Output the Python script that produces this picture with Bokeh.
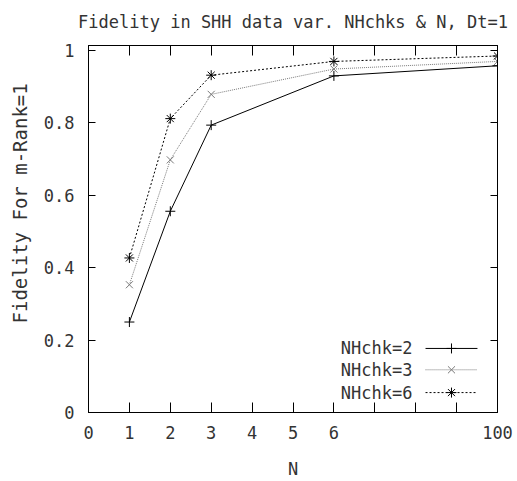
import math
from bokeh.plotting import figure
from bokeh.models import FixedTicker, LinearAxis, Label, Range1d, CustomJSTickFormatter, Title
from bokeh.embed import file_html
from bokeh.resources import INLINE

# ---------------- data ----------------
title_text = "Fidelity in SHH data var. NHchks & N, Dt=1"
x_label = "N"
y_label = "Fidelity For m-Rank=1"
x_tick_labels = ["0", "1", "2", "3", "4", "5", "6", "", "", "", "100"]
y_ticks = [0, 0.2, 0.4, 0.6, 0.8, 1.0]
y_tick_labels = ["0", "0.2", "0.4", "0.6", "0.8", "1"]
N_values = [1, 2, 3, 6, 100]
series_names = ["NHchk=2", "NHchk=3", "NHchk=6"]
fid_nhchk2 = [0.250, 0.556, 0.794, 0.930, 0.958]
fid_nhchk3 = [0.353, 0.698, 0.879, 0.949, 0.970]
fid_nhchk6 = [0.427, 0.812, 0.932, 0.970, 0.985]

# ---------------- styling ----------------
FONT = "DejaVu Sans Mono"
TXT = "#333333"
FS = "17px"

x_pos = [x_tick_labels.index(str(n)) for n in N_values]
x_max = len(x_tick_labels) - 1

p = figure(width=517, height=481, output_backend="svg", toolbar_location=None,
           x_range=Range1d(0, x_max), y_range=Range1d(0, 1.014),
           min_border_left=88, min_border_right=20, min_border_top=44, min_border_bottom=67)
p.grid.visible = False
p.outline_line_color = "black"
p.background_fill_color = "white"
p.border_fill_color = "white"

x_ticker = FixedTicker(ticks=list(range(len(x_tick_labels))))
y_ticker = FixedTicker(ticks=y_ticks)

xa = p.xaxis[0]
xa.ticker = x_ticker
xa.major_label_overrides = {i: lab for i, lab in enumerate(x_tick_labels)}
xa.major_tick_in = 10
xa.major_tick_out = 0
xa.minor_tick_in = 0
xa.minor_tick_out = 0
xa.major_label_standoff = 13
xa.axis_label = x_label
xa.axis_label_standoff = 17
xa.axis_label_text_font = FONT
xa.axis_label_text_font_size = FS
xa.axis_label_text_font_style = "normal"
xa.axis_label_text_color = TXT

ya = p.yaxis[0]
ya.ticker = y_ticker
ya.major_label_overrides = {t: lab for t, lab in zip(y_ticks, y_tick_labels)}
ya.major_tick_in = 7
ya.major_tick_out = 0
ya.minor_tick_in = 0
ya.minor_tick_out = 0
ya.major_label_standoff = 14

for ax in (xa, ya):
    ax.axis_line_color = "black"
    ax.major_tick_line_color = "black"
    ax.major_label_text_font = FONT
    ax.major_label_text_font_size = FS
    ax.major_label_text_color = TXT

blank = CustomJSTickFormatter(code="return ''")
right_ax = LinearAxis(ticker=y_ticker, formatter=blank, major_tick_in=7, major_tick_out=0,
                      minor_tick_in=0, minor_tick_out=0, major_label_text_font_size="1px",
                      major_label_standoff=0)
top_ax = LinearAxis(ticker=x_ticker, formatter=blank, major_tick_in=10, major_tick_out=0,
                    minor_tick_in=0, minor_tick_out=0, major_label_text_font_size="1px",
                    major_label_standoff=0)
p.add_layout(right_ax, "right")
p.add_layout(top_ax, "above")

styles = [
    dict(color="black", dash="solid", marker="cross"),
    dict(color="#7a7a7a", dash="1 1", marker="x"),
    dict(color="black", dash="2 2", marker="asterisk"),
]
series = [fid_nhchk2, fid_nhchk3, fid_nhchk6]

for ys, st in zip(series, styles):
    p.line(x_pos, ys, line_color=st["color"], line_dash=st["dash"], line_width=1)
    p.scatter(x_pos, ys, marker=st["marker"], size=10, line_color=st["color"], line_width=1)

# legend (gnuplot style: text then sample)
leg_text_x = 7.92
leg_line_x0, leg_line_x1 = 8.24, 9.51
leg_rows_y = [0.177, 0.118, 0.055]
for name, st, ly in zip(series_names, styles, leg_rows_y):
    p.add_layout(Label(x=leg_text_x, y=ly, text=name, text_align="right", text_baseline="middle",
                       text_font=FONT, text_font_size=FS, text_color=TXT))
    p.line([leg_line_x0, leg_line_x1], [ly, ly], line_color=st["color"], line_dash=st["dash"], line_width=1)
    p.scatter([(leg_line_x0 + leg_line_x1) / 2], [ly], marker=st["marker"], size=10,
              line_color=st["color"], line_width=1)

# title and y label
p.add_layout(Title(text=title_text, align="center", vertical_align="top", text_font=FONT,
                   text_font_size=FS, text_font_style="normal", text_color=TXT, standoff=23), "above")
p.add_layout(Title(text=y_label, align="left", vertical_align="top", offset=89, text_font=FONT,
                   text_font_size="19px", text_font_style="normal", text_color=TXT, standoff=16), "left")

open("out.html", "w").write(file_html(p, INLINE))
